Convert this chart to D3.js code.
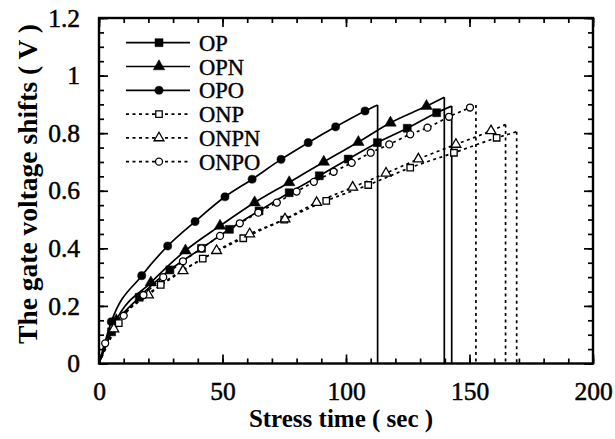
<!DOCTYPE html>
<html>
<head>
<meta charset="utf-8">
<script src="https://cdn.jsdelivr.net/npm/d3@7"></script>
<style>
  body { margin: 0; background: #fff; }
  svg text { font-family: "Liberation Serif", "DejaVu Serif", serif; fill: #000; }
</style>
</head>
<body>
<svg id="chart" width="615" height="439"></svg>
<script>
// data (time in sec, shift in V)
let seriesNames = ["OP", "OPN", "OPO", "ONP", "ONPN", "ONPO"];

let opTime   = [5.1, 16.3, 28.7, 41.5, 52.8, 64.8, 77, 89.2, 100.9, 112.7, 124.8, 136.7];
let opShift  = [0.11, 0.23, 0.325, 0.40, 0.466, 0.53, 0.593, 0.652, 0.71, 0.767, 0.817, 0.871];

let opnTime  = [7, 21, 35, 49, 63, 77, 91, 105, 118, 132.6];
let opnShift = [0.15, 0.281, 0.392, 0.478, 0.559, 0.629, 0.70, 0.769, 0.836, 0.894];

let opoTime  = [5, 17.3, 27.8, 38.9, 51, 62, 73.7, 84.7, 95.8, 107.7];
let opoShift = [0.145, 0.305, 0.408, 0.493, 0.579, 0.64, 0.709, 0.767, 0.822, 0.877];

let onpTime  = [8, 25, 42, 58.4, 75, 92, 109, 126, 143.7, 161];
let onpShift = [0.14, 0.273, 0.364, 0.435, 0.50, 0.565, 0.62, 0.68, 0.732, 0.784];

let onpnTime  = [6, 20, 34, 47.6, 61, 75.3, 88.1, 102.7, 116.2, 129.3, 144.5, 158.7];
let onpnShift = [0.12, 0.238, 0.322, 0.392, 0.45, 0.502, 0.559, 0.612, 0.661, 0.71, 0.761, 0.808];

let onpoTime  = [2.5, 10, 18, 26, 34, 41.5, 49, 57, 64.5, 72, 80, 87, 95, 102.3, 110, 117.5, 126, 133, 141.7, 150.2];
let onpoShift = [0.07, 0.166, 0.238, 0.30, 0.355, 0.40, 0.443, 0.487, 0.524, 0.559, 0.597, 0.631, 0.666, 0.697, 0.732, 0.761, 0.796, 0.819, 0.857, 0.889];

// breakdown: last time and shift before the drop to zero
let breakTime  = [142.8, 139.8, 112.8, 169.1, 164.6, 152.6];
let breakShift = [0.894, 0.925, 0.898, 0.805, 0.830, 0.898];

let xTicks = [0, 50, 100, 150, 200];
let yTicks = [0, 0.2, 0.4, 0.6, 0.8, 1, 1.2];

let times  = [opTime, opnTime, opoTime, onpTime, onpnTime, onpoTime];
let shifts = [opShift, opnShift, opoShift, onpShift, onpnShift, onpoShift];
let markers = ["square", "triangle", "circle", "square", "triangle", "circle"];
let filled  = [true, true, true, false, false, false];

let margin = {left: 99, right: 22, top: 18, bottom: 75.5};
let svg = d3.select("#chart");
let width = +svg.attr("width");
let height = +svg.attr("height");

let x = d3.scaleLinear().domain([0, 200]).range([margin.left, width - margin.right]);
let y = d3.scaleLinear().domain([0, 1.2]).range([height - margin.bottom, margin.top]);

let symbolType = {square: d3.symbolSquare, triangle: d3.symbolTriangle, circle: d3.symbolCircle};
let symbolSize = {square: 64, triangle: 58, circle: 52};
let openSize   = {square: 42, triangle: 42, circle: 38};

function drawMarker(g, kind, full, cx, cy) {
    g.append("path")
        .attr("d", d3.symbol().type(symbolType[kind]).size(full ? symbolSize[kind] : openSize[kind])())
        .attr("transform", "translate(" + cx + "," + cy + ")")
        .attr("fill", full ? "#000" : "#fff")
        .attr("stroke", "#000")
        .attr("stroke-width", full ? 0.5 : 1.3);
}

// curves
let line = d3.line()
    .x(d => x(d[0]))
    .y(d => y(d[1]))
    .curve(d3.curveMonotoneX);

let curves = svg.append("g").attr("class", "curves");
for (let i = 0; i < seriesNames.length; i++) {
    let pts = [[0, 0]];
    for (let j = 0; j < times[i].length; j++) {
        pts.push([times[i][j], shifts[i][j]]);
    }
    pts.push([breakTime[i], breakShift[i]]);
    let dash = filled[i] ? null : "3,3.5";
    curves.append("path")
        .attr("d", line(pts))
        .attr("fill", "none")
        .attr("stroke", "#000")
        .attr("stroke-width", 1.7)
        .attr("stroke-dasharray", dash);
    // drop at breakdown
    curves.append("line")
        .attr("x1", x(breakTime[i])).attr("x2", x(breakTime[i]))
        .attr("y1", y(breakShift[i])).attr("y2", y(0))
        .attr("stroke", "#000")
        .attr("stroke-width", 1.7)
        .attr("stroke-dasharray", dash);
}

let marks = svg.append("g").attr("class", "markers");
for (let i = 0; i < seriesNames.length; i++) {
    for (let j = 0; j < times[i].length; j++) {
        drawMarker(marks, markers[i], filled[i], x(times[i][j]), y(shifts[i][j]));
    }
}

// axes: ticks inward on all four sides
let majorLen = 9, minorLen = 5;
let axes = svg.append("g").attr("class", "axes");
let xMinor = d3.range(0, 201, 10);
let yMinor = d3.range(0, 1.2001, 0.05);

axes.append("g")
    .attr("transform", "translate(0," + y(0) + ")")
    .call(d3.axisBottom(x).tickValues(xMinor).tickSize(-minorLen).tickFormat(""));
axes.append("g")
    .attr("transform", "translate(0," + y(0) + ")")
    .call(d3.axisBottom(x).tickValues(xTicks).tickSize(-majorLen).tickPadding(majorLen + 9).tickFormat(d3.format("d")));
axes.append("g")
    .attr("transform", "translate(0," + y(1.2) + ")")
    .call(d3.axisTop(x).tickValues(xMinor).tickSize(-minorLen).tickFormat(""));
axes.append("g")
    .attr("transform", "translate(0," + y(1.2) + ")")
    .call(d3.axisTop(x).tickValues(xTicks).tickSize(-majorLen).tickFormat(""));

axes.append("g")
    .attr("transform", "translate(" + x(0) + ",0)")
    .call(d3.axisLeft(y).tickValues(yMinor).tickSize(-minorLen).tickFormat(""));
axes.append("g")
    .attr("transform", "translate(" + x(0) + ",0)")
    .call(d3.axisLeft(y).tickValues(yTicks).tickSize(-majorLen).tickPadding(majorLen + 10).tickFormat(d => d3.format("")(+d.toFixed(1))));
axes.append("g")
    .attr("transform", "translate(" + x(200) + ",0)")
    .call(d3.axisRight(y).tickValues(yMinor).tickSize(-minorLen).tickFormat(""));
axes.append("g")
    .attr("transform", "translate(" + x(200) + ",0)")
    .call(d3.axisRight(y).tickValues(yTicks).tickSize(-majorLen).tickFormat(""));

axes.selectAll(".domain").remove();
axes.selectAll(".tick line").attr("stroke", "#000").attr("stroke-width", 1.7);
axes.selectAll(".tick text")
    .style("font-family", "'Liberation Serif', serif")
    .attr("font-size", 25.5)
    .attr("fill", "#000")
    .attr("stroke", "#000")
    .attr("stroke-width", 0.5);

// frame
svg.append("rect")
    .attr("x", x(0)).attr("y", y(1.2))
    .attr("width", x(200) - x(0)).attr("height", y(0) - y(1.2))
    .attr("fill", "none")
    .attr("stroke", "#000")
    .attr("stroke-width", 2.4);

// axis titles
svg.append("text")
    .attr("x", 341)
    .attr("y", 427)
    .attr("text-anchor", "middle")
    .attr("font-size", 25)
    .attr("font-weight", "bold")
    .text("Stress time ( sec )");

svg.append("text")
    .attr("transform", "translate(37," + 184 + ") rotate(-90)")
    .attr("text-anchor", "middle")
    .attr("font-size", 27.5)
    .attr("font-weight", "bold")
    .text("The gate voltage shifts ( V )");

// legend
let legend = svg.append("g").attr("class", "legend");
for (let i = 0; i < seriesNames.length; i++) {
    let ly = 42.7 + i * 23.8;
    legend.append("line")
        .attr("x1", 126).attr("x2", 190)
        .attr("y1", ly).attr("y2", ly)
        .attr("stroke", "#000")
        .attr("stroke-width", 1.7)
        .attr("stroke-dasharray", filled[i] ? null : "3,3.5");
    drawMarker(legend, markers[i], filled[i], 159, ly);
    legend.append("text")
        .attr("x", 199)
        .attr("y", ly + 8)
        .attr("font-size", 22.5)
        .attr("stroke", "#000")
        .attr("stroke-width", 0.4)
        .text(seriesNames[i]);
}
</script>
</body>
</html>
